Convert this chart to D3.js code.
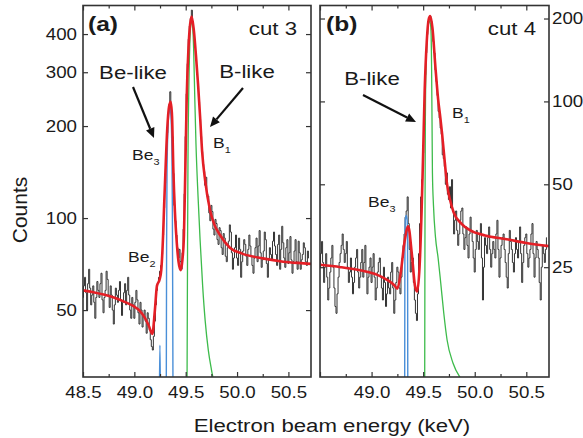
<!DOCTYPE html>
<html><head><meta charset="utf-8">
<script src="https://cdn.jsdelivr.net/npm/d3@7"></script>
<style>body{margin:0;background:#fff}svg{display:block}</style>
</head><body><svg id="c" width="583" height="438"></svg>
<script>
// ---------------- data ----------------
const xStart = 48.5, xStep = 0.01;           // histogram bins (keV), one row = 0.1 keV
const xDomain = [48.5, 50.72];
const countsA = [
  55,60,64,57,50,61,68,59,52,56,   // 48.5
  60,53,47,55,62,58,55,61,66,54,   // 48.6
  49,55,58,67,63,56,51,60,56,50,   // 48.7
  45,52,59,56,53,58,62,54,48,53,   // 48.8
  57,61,52,58,64,56,50,47,55,52,   // 48.9
  47,53,58,54,49,45,53,50,44,48,   // 49.0
  50,46,42,49,47,43,40,38,37,41,   // 49.1
  46,52,58,61,64,67,70,76,88,108,  // 49.2
  130,160,190,220,235,259,225,185,140,110, // 49.3
  98,88,80,74,79,72,68,77,92,120,  // 49.4
  185,255,320,385,425,450,479,440,410,375, // 49.5
  340,305,270,240,210,185,165,150,142,128, // 49.6
  136,120,118,104,98,110,105,92,88,99,     // 49.7
  96,85,82,93,91,80,76,89,86,75,   // 49.8
  72,80,84,95,90,77,68,74,80,88,   // 49.9
  74,70,86,79,64,72,78,85,82,75,   // 50.0
  70,79,88,81,75,70,66,74,80,86,   // 50.1
  72,81,91,77,69,73,78,90,85,71,   // 50.2
  64,73,80,76,73,84,90,81,76,70,   // 50.3
  82,88,68,79,94,83,74,69,80,85,   // 50.4
  71,77,87,73,66,72,78,85,72,68,   // 50.5
  84,77,68,73,76,83,80,72,70,78,   // 50.6
  74];                             // 50.7
const countsB = [
  25,28,31,26,22,25,28,23,19,21,   // 48.5
  24,27,30,25,21,18,17,20,23,26,   // 48.6
  28,30,33,29,26,28,31,25,22,24,   // 48.7
  27,23,20,22,25,27,29,24,21,23,   // 48.8
  26,29,23,26,30,24,20,23,25,27,   // 48.9
  22,25,28,23,19,21,24,26,27,23,   // 49.0
  21,19,25,22,18,20,23,21,20,24,   // 49.1
  26,21,17,19,22,25,24,21,20,23,   // 49.2
  27,30,33,38,40,45,36,29,24,26,   // 49.3
  27,22,19,17,16,20,28,36,45,52,   // 49.4
  65,90,125,150,175,192,200,204,195,182, // 49.5
  165,150,130,118,105,92,87,80,76,64,    // 49.6
  62,58,50,55,46,44,49,41,52,40,   // 49.7
  33,37,40,34,30,33,37,40,41,33,   // 49.8
  29,32,35,30,27,33,38,34,31,27,   // 49.9
  24,29,34,31,29,33,36,27,19,25,   // 50.0
  32,30,28,32,35,29,25,28,31,29,   // 50.1
  27,33,37,29,23,27,30,32,33,29,   // 50.2
  26,23,21,28,34,31,29,26,24,28,   // 50.3
  32,29,27,31,35,28,22,26,30,32,   // 50.4
  33,28,25,27,29,33,36,28,23,27,   // 50.5
  31,29,27,22,19,25,30,28,26,29,   // 50.6
  32];                             // 50.7
// fit (red), B-like component (green), Be-like components (blue): [E, counts]
const fitA = [[48.50,58],[48.60,57.2],[48.70,56.2],[48.80,55],[48.90,53.3],[49.00,51.3],[49.05,49.8],[49.10,47.3],[49.14,44.5],[49.175,41.8],[49.20,50],[49.22,60],[49.246,63],[49.262,67.6],[49.28,88],[49.29,110],[49.303,143],[49.32,195],[49.338,232],[49.354,240],[49.367,215],[49.38,143],[49.395,105],[49.41,86],[49.43,72],[49.451,67.5],[49.468,73],[49.483,88],[49.496,143],[49.51,250],[49.527,360],[49.543,430],[49.558,456],[49.578,415],[49.60,340],[49.62,275],[49.64,215],[49.66,165],[49.69,132],[49.737,106],[49.78,95],[49.834,88],[49.93,80],[50.05,76.5],[50.25,73.8],[50.45,72],[50.65,71.1],[50.72,70.8]];
const greenA = [[49.513,29],[49.518,80],[49.522,150],[49.53,260],[49.54,370],[49.55,430],[49.558,442],[49.567,425],[49.577,360],[49.588,250],[49.60,175],[49.62,118],[49.64,85],[49.665,60],[49.69,46],[49.72,37],[49.75,32],[49.78,28.5]];
const blueA3 = [[49.311,29],[49.314,80],[49.318,140],[49.326,190],[49.338,222],[49.348,228],[49.358,210],[49.366,160],[49.37,110],[49.373,60],[49.376,29]];
const blueA2 = [[49.245,29],[49.249,38.4],[49.253,29]];
const fitB = [[48.50,25.5],[48.70,25],[48.90,24.3],[49.05,23.5],[49.15,22.5],[49.22,21.5],[49.25,20.9],[49.28,23.5],[49.32,31],[49.355,35.2],[49.39,28],[49.42,21.5],[49.442,20.4],[49.465,25],[49.485,40],[49.50,65],[49.515,110],[49.535,165],[49.553,198],[49.568,204],[49.59,185],[49.619,133],[49.645,102],[49.667,87],[49.684,76],[49.71,60],[49.732,50],[49.76,44],[49.796,39.5],[49.87,36],[49.957,34],[50.10,32.6],[50.31,31.6],[50.50,30.6],[50.72,29.8]];
const greenB = [[49.515,9.5],[49.518,40],[49.521,80],[49.527,130],[49.54,175],[49.553,193],[49.566,196],[49.576,180],[49.582,130],[49.586,85],[49.59,55],[49.60,42],[49.62,32],[49.645,27],[49.67,22],[49.70,17],[49.732,13.6],[49.79,11.2],[49.87,9.8]];
const blueB3 = [[49.321,9.5],[49.323,30],[49.327,37],[49.336,38.5],[49.345,37],[49.349,30],[49.351,9.5]];
const xMajor = [48.5,49.0,49.5,50.0,50.5];
const xMinor = [48.75,49.25,49.75,50.25];
const xLabelsA = ["48.5","49.0","49.5","50.0","50.5"];
const xLabelsB = ["","49.0","49.5","50.0","50.5"];
const yTicksA = [50,100,200,300,400];
const yTicksB = [25,50,100,200];
const yDomainA = [30.2, 496];
const yDomainB = [9.98, 223];

// ---------------- drawing ----------------
const FONT = "'Liberation Sans', Arial, sans-serif";
const SX = 1.17;           // glyphs in the figure are horizontally stretched
const RED = "#e41f26", GREEN = "#3dbb4b", BLUE = "#4a8fd8";
const svg = d3.select("#c");

function label(x, y, str, size, anchor, weight, sub) {
  const g = svg.append("g").attr("transform", `translate(${x},${y}) scale(${SX},1)`);
  const t = g.append("text").attr("font-family", FONT).attr("font-size", size)
    .attr("text-anchor", anchor || "start").attr("font-weight", weight || "normal").attr("fill", "#1a1a1a");
  t.append("tspan").text(str);
  if (sub) t.append("tspan").attr("font-size", size * 0.62).attr("dy", size * 0.35).text(sub);
  return g;
}
function arrow(x1, y1, x2, y2) {
  const a = Math.atan2(y2 - y1, x2 - x1), L = 10, W = 4.5;
  const bx = x2 - L * Math.cos(a), by = y2 - L * Math.sin(a);
  svg.append("line").attr("x1", x1).attr("y1", y1).attr("x2", bx).attr("y2", by)
    .attr("stroke", "#111").attr("stroke-width", 2.2);
  svg.append("path").attr("d", `M${x2},${y2}L${bx + W * Math.sin(a)},${by - W * Math.cos(a)}L${bx - W * Math.sin(a)},${by + W * Math.cos(a)}Z`)
    .attr("fill", "#111");
}

function panel(p) {
  const x = d3.scaleLinear().domain(xDomain).range([p.L, p.R]);
  const y = d3.scaleLog().domain(p.yDomain).range([p.B, p.T]);
  const g = svg.append("g");
  const clipId = "clip" + p.id;
  svg.append("clipPath").attr("id", clipId).append("rect")
    .attr("x", p.L).attr("y", p.T).attr("width", p.R - p.L).attr("height", p.B - p.T);
  const plot = g.append("g").attr("clip-path", `url(#${clipId})`);

  const hist = p.counts.map((c, i) => [xStart + i * xStep, c]);
  plot.append("path").datum(hist)
    .attr("d", d3.line().x(d => x(d[0])).y(d => y(d[1])).curve(d3.curveStep))
    .attr("fill", "none").attr("stroke", "#333").attr("stroke-width", 1);

  const smooth = d3.line().x(d => x(d[0])).y(d => y(d[1])).curve(d3.curveMonotoneX);
  p.blues.forEach(b => {
    plot.append("path").datum(b).attr("d", smooth).attr("fill", "none").attr("stroke", BLUE).attr("stroke-width", 1.4);
  });
  plot.append("path").datum(p.green).attr("d", smooth).attr("fill", "none").attr("stroke", GREEN).attr("stroke-width", 1.3);
  plot.append("path").datum(p.fit).attr("d", smooth).attr("fill", "none").attr("stroke", RED).attr("stroke-width", 2.6);

  function styleAxis(sel) {
    sel.select(".domain").remove();
    sel.selectAll(".tick line").attr("stroke", "#333").attr("stroke-width", 1.2);
    sel.attr("font-family", FONT).attr("font-size", 16);
    sel.selectAll("text").attr("fill", "#1a1a1a");
  }
  const bx = g.append("g").attr("transform", `translate(0,${p.B})`)
    .call(d3.axisBottom(x).tickValues(xMajor).tickSize(-5).tickPadding(10).tickFormat((d, i) => p.xLabels[i]));
  styleAxis(bx); bx.selectAll("text").attr("transform", `scale(${SX},1)`);
  styleAxis(g.append("g").attr("transform", `translate(0,${p.B})`)
    .call(d3.axisBottom(x).tickValues(xMinor).tickSize(-3).tickFormat("")));
  styleAxis(g.append("g").attr("transform", `translate(0,${p.T})`)
    .call(d3.axisTop(x).tickValues(xMajor).tickSize(-5).tickFormat("")));
  styleAxis(g.append("g").attr("transform", `translate(0,${p.T})`)
    .call(d3.axisTop(x).tickValues(xMinor).tickSize(-3).tickFormat("")));
  const la = g.append("g").attr("transform", `translate(${p.L},0)`)
    .call(d3.axisLeft(y).tickValues(p.yTicks).tickSize(-5).tickPadding(6)
      .tickFormat(p.labelSide === "left" ? d3.format("d") : ""));
  styleAxis(la);
  la.selectAll("text").attr("x", -6 / SX).attr("transform", `scale(${SX},1)`);
  const ra = g.append("g").attr("transform", `translate(${p.R},0)`)
    .call(d3.axisRight(y).tickValues(p.yTicks).tickSize(-5).tickPadding(3)
      .tickFormat(p.labelSide === "right" ? d3.format("d") : ""));
  styleAxis(ra);
  ra.selectAll("text").attr("x", 3 / SX).attr("transform", `scale(${SX},1)`);

  g.append("rect").attr("x", p.L).attr("y", p.T).attr("width", p.R - p.L).attr("height", p.B - p.T)
    .attr("fill", "none").attr("stroke", "#333").attr("stroke-width", 1.6);
}

panel({id: "A", L: 83, R: 311, T: 5.5, B: 377, yDomain: yDomainA, counts: countsA, fit: fitA, green: greenA,
  blues: [blueA2, blueA3], xLabels: xLabelsA, yTicks: yTicksA, labelSide: "left"});
panel({id: "B", L: 320, R: 549, T: 5.5, B: 377, yDomain: yDomainB, counts: countsB, fit: fitB, green: greenB,
  blues: [blueB3], xLabels: xLabelsB, yTicks: yTicksB, labelSide: "right"});

// annotations panel (a)
label(88, 31, "(a)", 21, "start", "bold");
label(297, 35, "cut 3", 19, "end");
label(133, 79, "Be-like", 19, "middle");
label(247, 78, "B-like", 19, "middle");
arrow(133, 87, 154, 138);
arrow(243, 88, 210, 127);
label(132, 160, "Be", 15, "start", "normal", "3");
label(213, 148, "B", 15, "start", "normal", "1");
label(128, 262, "Be", 15, "start", "normal", "2");
// annotations panel (b)
label(326, 31, "(b)", 21, "start", "bold");
label(536, 35, "cut 4", 19, "end");
label(372, 85, "B-like", 19, "middle");
arrow(363, 95, 416, 122);
label(452, 118, "B", 15, "start", "normal", "1");
label(368, 207, "Be", 15, "start", "normal", "3");

// axis titles
label(332, 432, "Electron beam energy (keV)", 19, "middle");
svg.append("text").attr("transform", "translate(27,210) rotate(-90)")
  .attr("font-family", FONT).attr("font-size", 21).attr("text-anchor", "middle").attr("fill", "#1a1a1a").text("Counts");
</script></body></html>
